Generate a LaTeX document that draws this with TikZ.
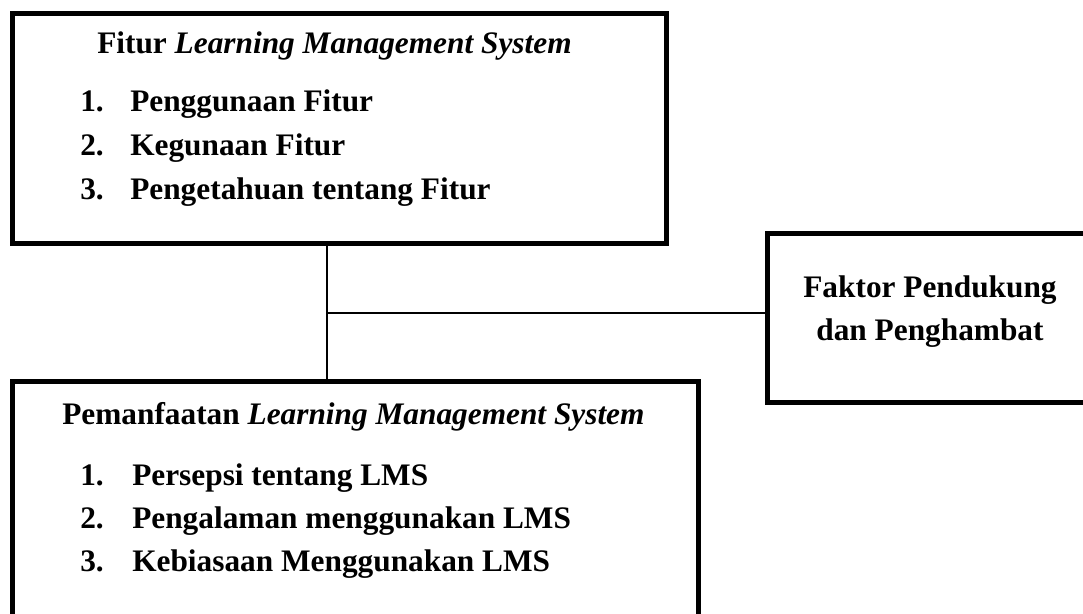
\documentclass[tikz,border=0pt]{standalone}
\usepackage{fontspec}
\setmainfont{Liberation Serif}
\usetikzlibrary{fit}

\begin{document}
\begin{tikzpicture}[x=0.75pt,y=0.75pt,yscale=-1,xscale=1,
  box/.style={draw, line width=3.75pt, inner sep=0pt},
  txt/.style={font=\fontsize{23.5pt}{32pt}\selectfont\bfseries, inner sep=0pt},
  link/.style={line width=1.2pt}]
\useasboundingbox (0,0) rectangle (1083,614);

% Boxes
\node [box, fit={(12,13) (666,243)}] (fitur) {};
\node [box, fit={(767,233.5) (1110,402)}] (faktor) {};
\node [box, fit={(12,381) (698,640)}] (manfaat) {};

% Text Node
\node [txt, anchor=base west] (fiturjudul) at (97,53) {Fitur \textit{Learning Management System}};
\node [txt, anchor=base west] (fno1) at (80,111) {1.};
\node [txt, anchor=base west] (fitem1) at (130,111) {Penggunaan Fitur};
\node [txt, anchor=base west] (fno2) at (80,155) {2.};
\node [txt, anchor=base west] (fitem2) at (130,155) {Kegunaan Fitur};
\node [txt, anchor=base west] (fno3) at (80,199) {3.};
\node [txt, anchor=base west] (fitem3) at (130,199) {Pengetahuan tentang Fitur};
% Text Node
\node [txt, anchor=base] (faktor1) at (930,297) {Faktor Pendukung};
\node [txt, anchor=base] (faktor2) at (930,340) {dan Penghambat};
% Text Node
\node [txt, anchor=base west] (mjudul) at (62,424) {Pemanfaatan \textit{Learning Management System}};
\node [txt, anchor=base west] (mno1) at (80,485) {1.};
\node [txt, anchor=base west] (mitem1) at (132,485) {Persepsi tentang LMS};
\node [txt, anchor=base west] (mno2) at (80,528) {2.};
\node [txt, anchor=base west] (mitem2) at (132,528) {Pengalaman menggunakan LMS};
\node [txt, anchor=base west] (mno3) at (80,571) {3.};
\node [txt, anchor=base west] (mitem3) at (132,571) {Kebiasaan Menggunakan LMS};

%Straight Lines
\coordinate (simpul) at (327,313);
\draw [link] (simpul |- fitur.south) -- (simpul |- manfaat.north);
\draw [link] (simpul) -- (faktor.west |- simpul);

\end{tikzpicture}
\end{document}
